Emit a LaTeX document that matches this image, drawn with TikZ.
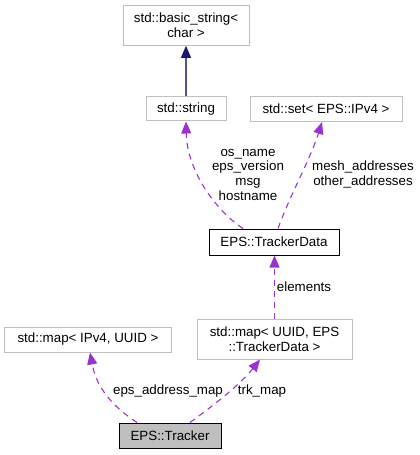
\documentclass[tikz,border=0pt]{standalone}
\usepackage{fontspec}
\setmainfont{Liberation Sans}
\usetikzlibrary{arrows.meta}
\definecolor{boxgray}{HTML}{BFBFBF}
\definecolor{orchid}{HTML}{9A32CD}
\definecolor{mblue}{HTML}{191970}
\tikzset{
  cls/.style={draw=boxgray, line width=1bp, fill=white, inner sep=0pt, align=center, font=\fontsize{13.4}{14.7}\selectfont},
  clsmain/.style={cls, draw=black},
  clscur/.style={cls, draw=black, fill=boxgray},
  usage/.style={draw=orchid, line width=1.1bp, dash pattern=on 6bp off 5bp, -{Triangle[length=12bp,width=10bp,fill=orchid]}},
  inherit/.style={draw=mblue!75!white, line width=1.1bp, -{Triangle[length=12bp,width=10bp,fill=mblue,color=mblue]}},
  lbl/.style={align=center, inner sep=0pt, font=\fontsize{13.4}{14.7}\selectfont}
}
\begin{document}
\begin{tikzpicture}[x=1bp,y=-1bp]
\useasboundingbox (0,0) rectangle (419,455);
\node[cls, minimum width=126bp, minimum height=40bp] (bs) at (186,25.3) {std::basic\_string\textless\\char \textgreater};
\node[cls, minimum width=80bp, minimum height=24bp] (str) at (186,109) {std::string};
\node[cls, minimum width=152bp, minimum height=25bp] (set) at (326,109) {std::set\textless{} EPS::IPv4 \textgreater};
\node[clsmain, minimum width=130bp, minimum height=26bp] (td) at (274,242) {EPS::TrackerData};
\node[cls, minimum width=166bp, minimum height=25bp] (mip) at (88,339.5) {std::map\textless{} IPv4, UUID \textgreater};
\node[cls, minimum width=155bp, minimum height=40bp] (muu) at (274.5,339) {std::map\textless{} UUID, EPS\\::TrackerData \textgreater};
\node[clscur, minimum width=102bp, minimum height=25bp] (trk) at (170,435.5) {EPS::Tracker};

\draw[inherit] (str.north) -- (bs.south);
\draw[usage] ([xshift=-31bp]td.north) .. controls (215,210) and (187,170) .. (str.south);
\draw[usage] ([xshift=4bp]td.north) .. controls (290,195) and (310,160) .. ([xshift=-4bp]set.south);
\draw[usage] (muu.north) -- ([xshift=0.5bp]td.south);
\draw[usage] ([xshift=-33bp]trk.north) .. controls (115,408) and (97,390) .. ([xshift=2bp]mip.south);
\draw[usage] ([xshift=20bp]trk.north) .. controls (210,408) and (240,385) .. ([xshift=-14.5bp]muu.south);

\node[lbl] (l1) at (248,174.7) {os\_name\\eps\_version\\msg\\hostname};
\node[lbl] (l2) at (363,174.3) {mesh\_addresses\\other\_addresses};
\node[lbl] (l3) at (304,286.7) {elements};
\node[lbl] (l4) at (168,391) {eps\_address\_map};
\node[lbl] (l5) at (262,391) {trk\_map};
\end{tikzpicture}
\end{document}
